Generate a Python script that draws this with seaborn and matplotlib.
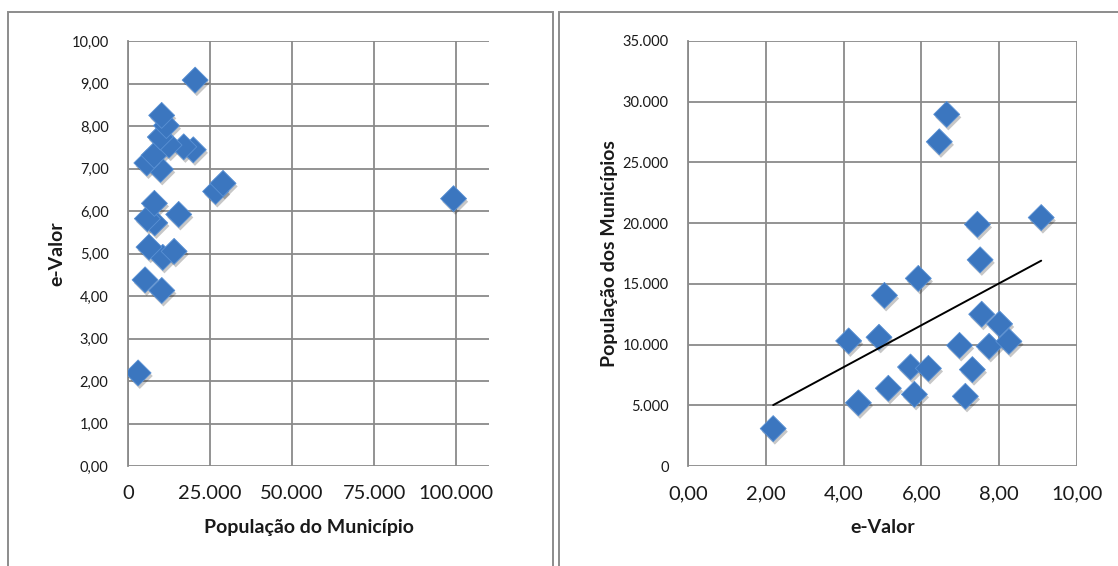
import numpy as np
import pandas as pd
import matplotlib
matplotlib.use("Agg")
import matplotlib.pyplot as plt
import matplotlib.patheffects as pe
from matplotlib.patches import Rectangle
from matplotlib.ticker import FuncFormatter
import seaborn as sns

# e-Valor score and population of each municipality
e_valor = [2.19, 4.13, 4.38, 4.91, 5.05, 5.15, 5.72, 5.82, 5.92, 6.18, 6.29, 6.46,
           6.65, 6.98, 7.13, 7.31, 7.44, 7.51, 7.55, 7.74, 8.01, 8.25, 9.08]
populacao = [3080, 10300, 5200, 10600, 14050, 6400, 8150, 5900, 15450, 8040, 99200, 26700,
             28960, 9930, 5740, 7940, 19900, 16980, 12500, 9850, 11700, 10260, 20460]

# axis ticks
ticks_pop_left = [0, 25000, 50000, 75000, 100000]
ticks_ev_left = [0, 1, 2, 3, 4, 5, 6, 7, 8, 9, 10]
ticks_ev_right = [0, 2, 4, 6, 8, 10]
ticks_pop_right = [0, 5000, 10000, 15000, 20000, 25000, 30000, 35000]

x_label_left = "População do Município"
y_label_left = "e-Valor"
x_label_right = "e-Valor"
y_label_right = "População dos Municípios"

df = pd.DataFrame({"e_valor": e_valor, "populacao": populacao})
df_small = df[df["populacao"] <= 35000]

sns.set_theme(style="white")
plt.rcParams["font.family"] = ["Lato", "DejaVu Sans"]

GRID = "#8a8a8a"
BLUE = "#3b76bf"
EDGE = "#5a91d4"
TEXT = "#1a1a1a"

W, H = 1118, 566
fig = plt.figure(figsize=(W / 100, H / 100), dpi=100)
fig.patch.set_facecolor("white")

def fbox(x0, y0, x1, y1):
    return [x0 / W, 1 - y1 / H, (x1 - x0) / W, (y1 - y0) / H]

# chart-area frames
for (x0, y0, x1, y1) in [(8, 12, 553, 600), (559, 12, 1200, 600)]:
    fig.patches.append(Rectangle((x0 / W, 1 - y1 / H), (x1 - x0) / W, (y1 - y0) / H,
                                 transform=fig.transFigure, fill=False,
                                 edgecolor="#8c8c8c", linewidth=1.4, zorder=0))

ax1 = fig.add_axes(fbox(128, 41, 489, 466))
ax2 = fig.add_axes(fbox(688, 41, 1077, 466))

shadow = [pe.SimplePatchShadow(offset=(1.2, -2.2), shadow_rgbFace="#000000", alpha=0.22),
          pe.Normal()]

pt_fmt = lambda v, p: f"{v:,.0f}".replace(",", ".")
dec_fmt = lambda v, p: f"{v:.2f}".replace(".", ",")

def style_axes(ax):
    ax.grid(True, color=GRID, linewidth=1.3)
    ax.set_axisbelow(True)
    for s in ax.spines.values():
        s.set_visible(False)
    ax.spines["left"].set_visible(True)
    ax.spines["left"].set_color(GRID)
    ax.spines["left"].set_linewidth(1.3)
    ax.tick_params(length=0)

# left: population vs e-Valor
sns.scatterplot(data=df, x="populacao", y="e_valor", marker="D", s=175,
                color=BLUE, edgecolor=EDGE, linewidth=0.6, ax=ax1, zorder=3)
ax1.collections[0].set_path_effects(shadow)
ax1.set_xlim(0, 110000)
ax1.set_ylim(0, 10)
ax1.set_xticks(ticks_pop_left)
ax1.set_yticks(ticks_ev_left)
ax1.xaxis.set_major_formatter(FuncFormatter(pt_fmt))
ax1.yaxis.set_major_formatter(FuncFormatter(dec_fmt))
style_axes(ax1)
ax1.tick_params(axis="x", labelsize=14.5, pad=14, labelcolor=TEXT)
ax1.tick_params(axis="y", labelsize=10.5, pad=14, labelcolor=TEXT)
ax1.set_xlabel(x_label_left, fontsize=14, fontweight="bold", labelpad=12, color=TEXT)
ax1.set_ylabel(y_label_left, fontsize=14, fontweight="bold", labelpad=4, color=TEXT)

# right: e-Valor vs population with linear trend
sns.scatterplot(data=df_small, x="e_valor", y="populacao", marker="D", s=175,
                color=BLUE, edgecolor=EDGE, linewidth=0.6, ax=ax2, zorder=3)
ax2.collections[0].set_path_effects(shadow)
sns.regplot(data=df_small, x="e_valor", y="populacao", scatter=False, ci=None,
            color="black", line_kws={"linewidth": 1.4, "zorder": 4}, ax=ax2)
ax2.set_xlim(0, 10)
ax2.set_ylim(0, 35000)
ax2.set_xticks(ticks_ev_right)
ax2.set_yticks(ticks_pop_right)
ax2.xaxis.set_major_formatter(FuncFormatter(dec_fmt))
ax2.yaxis.set_major_formatter(FuncFormatter(pt_fmt))
style_axes(ax2)
ax2.tick_params(axis="x", labelsize=14.5, pad=14, labelcolor=TEXT)
ax2.tick_params(axis="y", labelsize=10.5, pad=14, labelcolor=TEXT)
ax2.set_xlabel(x_label_right, fontsize=14, fontweight="bold", labelpad=12, color=TEXT)
ax2.set_ylabel(y_label_right, fontsize=14, fontweight="bold", labelpad=3, color=TEXT)

fig.savefig("out.png", dpi=100)
